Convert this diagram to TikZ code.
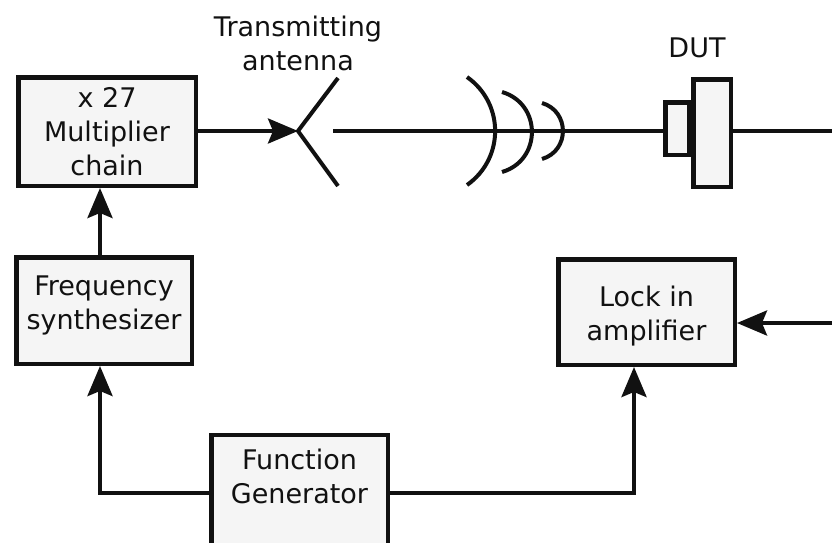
\documentclass[tikz,border=0pt]{standalone}
\usepackage{fontspec}
\setmainfont{DejaVu Sans}
\usetikzlibrary{arrows.meta}
\definecolor{boxfill}{HTML}{F5F5F5}
\definecolor{ink}{HTML}{111111}
\begin{document}
\begin{tikzpicture}[x=1pt,y=-1pt,
  blk/.style={draw=ink, line width=4.5pt, fill=boxfill, align=center, inner sep=0pt,
              font=\fontsize{27}{34}\selectfont, text=ink},
  wire/.style={draw=ink, line width=4pt},
  arr/.style={wire, -{Stealth[length=30pt,width=25pt,inset=5pt]}},
  lbl/.style={align=center, inner sep=0pt, font=\fontsize{27}{34}\selectfont, text=ink}]
\useasboundingbox (0,0) rectangle (832,542);
\clip (0,0) rectangle (832,542);

% boxes
\node[blk, minimum width=177.5pt, minimum height=108.5pt] (mult) at (107,131.5) {x 27\\Multiplier\\chain};
\node[blk, minimum width=175.5pt, minimum height=106.5pt] (freq) at (104,310.5) {};
\node[lbl] (freqtxt) at (104,305) {Frequency\\synthesizer};
\node[blk, minimum width=176.5pt, minimum height=130pt] (func) at (299.5,500) {};
\node[lbl] (functxt) at (299.5,476) {Function\\Generator};
\node[blk, minimum width=176.5pt, minimum height=105.5pt] (lock) at (646.5,312) {};
\node[lbl] (locktxt) at (646.5,316) {Lock in\\amplifier};

% DUT
\node[blk, minimum width=23.5pt, minimum height=52.5pt] (dutS) at (677,128.5) {};
\node[blk, minimum width=37.5pt, minimum height=107.5pt] (dutB) at (712,133) {};

% labels
\node[lbl] (antlbl) at (298,43) {Transmitting\\antenna};
\node[lbl] (dutlbl) at (697,47.5) {DUT};

% helper coordinates
\coordinate (ant) at (298,131);
\coordinate (antU) at (338,78);
\coordinate (antL) at (338,186);
\coordinate (rx) at (333,131);
\coordinate (out) at (832,131);
\coordinate (lin) at (832,323);
\coordinate (vx) at (100,0);
\coordinate (lx) at (634,0);
\coordinate (fy) at (0,493);

% antenna
\draw[wire] (antU) -- (ant) -- (antL);
\draw[arr] (mult.east |- ant) -- (ant);

% propagation line
\draw[wire] (rx) -- (dutS.west |- rx);
\draw[wire] (dutB.east |- rx) -- (out);

% waves
\draw[wire] (467,77) .. controls (504.5,103.4) and (504.5,158.6) .. (467,185);
\draw[wire] (502,92) .. controls (541.9,103.7) and (541.9,160.3) .. (502,172);
\draw[wire] (542,103) .. controls (569.9,111.2) and (569.9,150.8) .. (542,159);

% connectors
\draw[arr] (freq.north -| vx) -- (mult.south -| vx);
\draw[arr] (func.west |- fy) -| (freq.south -| vx);
\draw[arr] (func.east |- fy) -| (lock.south -| lx);
\draw[arr] (lin) -- (lock.east |- lin);
\end{tikzpicture}
\end{document}
